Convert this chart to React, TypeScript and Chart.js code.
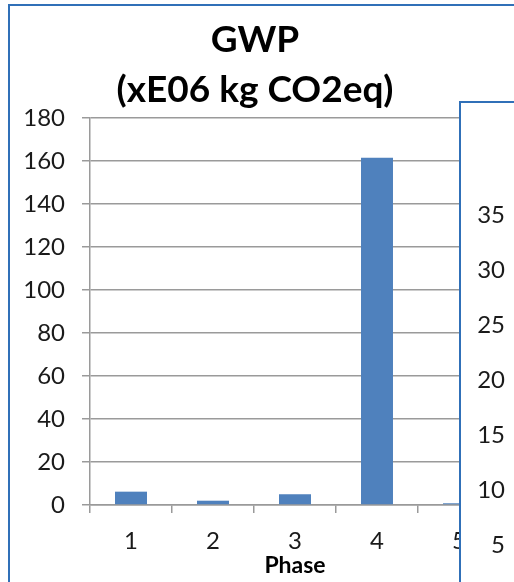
import React, { useEffect, useRef } from "react";
import { Chart, registerables } from "chart.js";

Chart.register(...registerables);

// ---- data ----
const phases = ["1", "2", "3", "4", "5"];
const gwpValues = [6.2, 2.0, 5.0, 161.5, 0.8];
const yMin = 0;
const yMax = 180;
const yStep = 20;
const titleLines = ["GWP", "(xE06 kg CO2eq)"];
const xAxisTitle = "Phase";
// neighbouring (overlapping) chart's axis
const panelMin = 0;
const panelMax = 35;
const panelStep = 5;

const FAMILY = 'Lato, "Open Sans", "DejaVu Sans", sans-serif';
const BLUE = "#3070B8";
const GRID = "#9a9a9a";
const TICK = "#1a1a1a";

export default function App() {
  const mainRef = useRef<HTMLCanvasElement | null>(null);
  const panelRef = useRef<HTMLCanvasElement | null>(null);

  useEffect(() => {
    if (!mainRef.current || !panelRef.current) return;
    const main = new Chart(mainRef.current, {
      type: "bar",
      data: {
        labels: phases,
        datasets: [
          {
            data: gwpValues,
            backgroundColor: "#4F81BD",
            borderWidth: 0,
            barPercentage: 0.39,
            categoryPercentage: 1,
          },
        ],
      },
      options: {
        responsive: false,
        animation: false,
        devicePixelRatio: 1,
        layout: { padding: { left: 10, right: 14, top: 0, bottom: 0 } },
        plugins: {
          legend: { display: false },
          tooltip: { enabled: false },
          title: {
            display: true,
            text: titleLines,
            color: "#000",
            font: { family: FAMILY, size: 37, weight: "bold", lineHeight: 1.35 },
            padding: { top: 15, bottom: 3 },
          },
        },
        scales: {
          x: {
            grid: {
              display: true,
              offset: true,
              drawOnChartArea: false,
              drawTicks: true,
              tickLength: 8,
              color: GRID,
              lineWidth: 1.5,
            },
            border: { color: GRID, width: 1.5 },
            ticks: {
              color: TICK,
              font: { family: FAMILY, size: 24 },
              padding: 14,
              maxRotation: 0,
              minRotation: 0,
              autoSkip: false,
            },
            title: {
              display: true,
              text: xAxisTitle,
              color: "#000",
              font: { family: FAMILY, size: 23, weight: "bold" },
              padding: { top: 0, bottom: 3 },
            },
            afterFit: (s: any) => {
              s.height = 77;
            },
          },
          y: {
            min: yMin,
            max: yMax,
            ticks: {
              stepSize: yStep,
              color: TICK,
              font: { family: FAMILY, size: 24 },
              padding: 17,
            },
            grid: { color: GRID, lineWidth: 1.5, tickLength: 8 },
            border: { color: GRID, width: 1.5 },
            afterFit: (s: any) => {
              s.width = 80;
            },
          },
        },
      },
    } as any);

    const panel = new Chart(panelRef.current, {
      type: "bar",
      data: { labels: [""], datasets: [{ data: [] }] },
      options: {
        responsive: false,
        animation: false,
        devicePixelRatio: 1,
        layout: { padding: { top: 112, bottom: 20, left: 0, right: 0 } },
        plugins: {
          legend: { display: false },
          tooltip: { enabled: false },
          title: { display: false },
        },
        scales: {
          x: { display: false },
          y: {
            min: panelMin,
            max: panelMax,
            ticks: {
              stepSize: panelStep,
              color: TICK,
              font: { family: FAMILY, size: 24 },
              padding: 8,
            },
            grid: { display: false, drawTicks: false },
            border: { display: false },
            afterFit: (s: any) => {
              s.width = 52;
            },
          },
        },
      },
    } as any);

    return () => {
      main.destroy();
      panel.destroy();
    };
  }, []);

  return (
    <div
      style={{
        position: "fixed",
        left: 0,
        top: 0,
        width: 514,
        height: 582,
        overflow: "hidden",
        background: "#fff",
      }}
    >
      <canvas
        ref={mainRef}
        width={514}
        height={582}
        style={{ position: "absolute", left: 0, top: 0, width: 514, height: 582 }}
      />
      <div
        style={{
          position: "absolute",
          left: 8,
          top: 4,
          width: 700,
          height: 800,
          border: `2px solid ${BLUE}`,
          pointerEvents: "none",
        }}
      />
      <div
        style={{
          position: "absolute",
          left: 459,
          top: 101,
          width: 200,
          height: 600,
          background: "#fff",
          borderLeft: `2px solid ${BLUE}`,
          borderTop: `2px solid ${BLUE}`,
          overflow: "hidden",
        }}
      >
        <canvas
          ref={panelRef}
          width={200}
          height={520}
          style={{ position: "absolute", left: 0, top: 0, width: 200, height: 520 }}
        />
      </div>
    </div>
  );
}
